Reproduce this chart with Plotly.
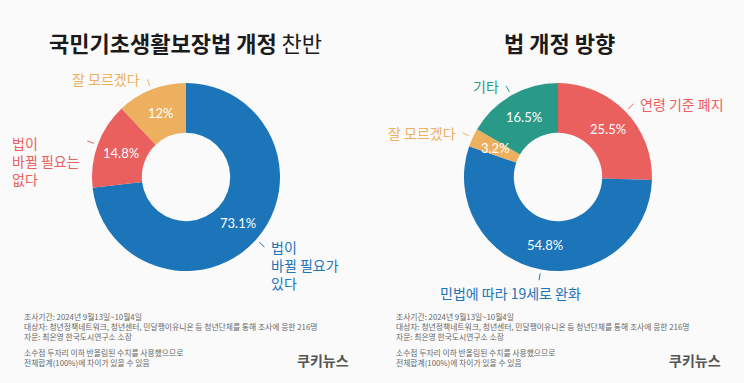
import math
import plotly.graph_objects as go

W, H = 744, 383
BG = "#fafafa"
FONT = "Noto Sans CJK KR"

# ---- data ----
left_title_bold = "국민기초생활보장법 개정"
left_title_reg = "찬반"
left_labels = ["법이<br>바뀔 필요가<br>있다", "법이<br>바뀔 필요는<br>없다", "잘 모르겠다"]
left_values = [73.1, 14.8, 12.0]
left_text = ["73.1%", "14.8%", "12%"]
left_colors = ["#1c74b9", "#e9605f", "#edb05e"]

right_title = "법 개정 방향"
right_labels = ["연령 기준 폐지", "민법에 따라 19세로 완화", "잘 모르겠다", "기타"]
right_values = [25.5, 54.8, 3.2, 16.5]
right_text = ["25.5%", "54.8%", "3.2%", "16.5%"]
right_colors = ["#e9605f", "#1c74b9", "#edb05e", "#2a9a88"]

footer_lines = [
    "조사기간: 2024년 9월13일~10월4일",
    "대상자: 청년정책네트워크, 청년센터, 민달팽이유니온 등 청년단체를 통해 조사에 응한 216명",
    "자문: 최은영 한국도시연구소 소장",
]
footer_note = ["소수점 두자리 이하 반올림된 수치를 사용했으므로", "전체합계(100%)에 차이가 있을 수 있음"]
brand = "쿠키뉴스"

# ---- layout constants (pixels) ----
CY = 177
R = 94
HOLE = 0.47
panels = [
    dict(cx=186, labels=left_labels, values=left_values, text=left_text, colors=left_colors),
    dict(cx=558, labels=right_labels, values=right_values, text=right_text, colors=right_colors),
]

def px(x):
    return x / W

def py(y):
    return 1 - y / H

fig = go.Figure()
annotations = []
shapes = []

for p in panels:
    cx = p["cx"]
    fig.add_trace(go.Pie(
        values=p["values"], labels=[l.replace("<br>", " ") for l in p["labels"]],
        text=p["text"], textinfo="none",
        marker=dict(colors=p["colors"], line=dict(width=0)),
        hole=HOLE, sort=False, direction="clockwise", rotation=0,
        domain=dict(x=[px(cx - R), px(cx + R)], y=[py(CY + R), py(CY - R)]),
        showlegend=False, hoverinfo="label+text",
    ))
    total = sum(p["values"])
    cum = 0.0
    rmid = (R * HOLE + R) / 2
    for lab, v, t, col in zip(p["labels"], p["values"], p["text"], p["colors"]):
        mid = (cum + v / 2) / total * 2 * math.pi
        cum += v
        dx, dy = math.sin(mid), -math.cos(mid)
        # percent label in the ring
        annotations.append(dict(text=t, x=px(cx + dx * rmid), y=py(CY + dy * rmid),
                                xref="paper", yref="paper", xanchor="center", yanchor="middle",
                                showarrow=False, font=dict(family="Lato", size=13, color="white")))
        x0, y0 = cx + dx * 98, CY + dy * 98
        x1, y1 = cx + dx * 105, CY + dy * 105
        shapes.append(dict(type="line", xref="paper", yref="paper",
                           x0=px(x0), y0=py(y0), x1=px(x1), y1=py(y1),
                           line=dict(color=col, width=1)))
        nlines = lab.count("<br>") + 1
        if abs(dx) < 0.3:
            xa, ya, lx, ly = "center", "top", x1 - 28, y1 + 1
        elif dx < 0:
            xa, lx = "right", x1 - 5
            ya, ly = ("middle", y1) if nlines == 1 else ("top", y1 - 10)
        else:
            xa, lx = "left", x1 + 5
            ya, ly = ("middle", y1) if nlines == 1 else ("top", y1 - 12)
        annotations.append(dict(text=lab, x=px(lx), y=py(ly), xref="paper", yref="paper",
                                xanchor=xa, yanchor=ya, align="left", showarrow=False,
                                font=dict(family=FONT, size=14, color=col)))

# titles
annotations.append(dict(text=f"<b>{left_title_bold}</b> {left_title_reg}", x=px(185), y=py(42),
                        xref="paper", yref="paper", xanchor="center", yanchor="middle",
                        showarrow=False, font=dict(family=FONT, size=22, color="#1a1a1a")))
annotations.append(dict(text=f"<b>{right_title}</b>", x=px(559), y=py(42),
                        xref="paper", yref="paper", xanchor="center", yanchor="middle",
                        showarrow=False, font=dict(family=FONT, size=22, color="#1a1a1a")))

# footers
for fx in (23, 395):
    annotations.append(dict(text="<br>".join(footer_lines), x=px(fx), y=py(310),
                            xref="paper", yref="paper", xanchor="left", yanchor="top", align="left",
                            borderpad=0, showarrow=False,
                            font=dict(family=FONT, size=7.8, color="#666666")))
    annotations.append(dict(text="<br>".join(footer_note), x=px(fx), y=py(346),
                            xref="paper", yref="paper", xanchor="left", yanchor="top", align="left",
                            borderpad=0, showarrow=False,
                            font=dict(family=FONT, size=7.8, color="#666666")))
    annotations.append(dict(text=f"<b>{brand}</b>", x=px(fx + 300), y=py(360),
                            xref="paper", yref="paper", xanchor="center", yanchor="middle",
                            showarrow=False, font=dict(family=FONT, size=14, color="#555555")))

fig.update_layout(width=W, height=H, margin=dict(l=0, r=0, t=0, b=0),
                  paper_bgcolor=BG, plot_bgcolor=BG,
                  annotations=annotations, shapes=shapes,
                  font=dict(family=FONT))
fig.write_html("out.html", config={"displayModeBar": False},
               post_script="document.body.style.margin='0';document.body.style.background='%s';" % BG)
